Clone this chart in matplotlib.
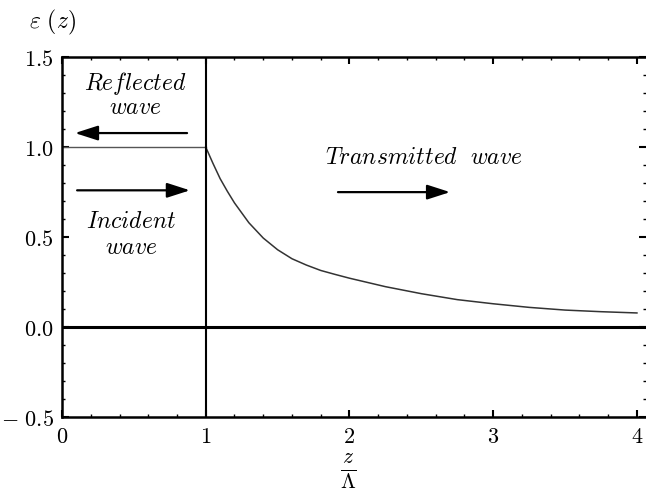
import matplotlib
matplotlib.use('Agg')
import matplotlib.pyplot as plt
from matplotlib.ticker import MultipleLocator

plt.rcParams['mathtext.fontset'] = 'cm'
plt.rcParams['font.family'] = 'serif'
plt.rcParams['font.serif'] = ['DejaVu Serif']

# flat part (z < 1) and the decaying part
z_flat = [0.0, 1.0]
eps_flat = [1.0, 1.0]

z_decay = [1.0, 1.05, 1.1, 1.15, 1.2, 1.25, 1.3, 1.4, 1.5, 1.6, 1.7, 1.8, 1.9,
           2.0, 2.25, 2.5, 2.75, 3.0, 3.25, 3.5, 3.75, 4.0]
eps_decay = [1.0, 0.91, 0.825, 0.755, 0.69, 0.635, 0.58, 0.495, 0.43, 0.38, 0.345,
             0.315, 0.293, 0.272, 0.225, 0.186, 0.153, 0.13, 0.11, 0.095, 0.086, 0.079]

xticks = [0, 1, 2, 3, 4]
yticks = [-0.5, 0.0, 0.5, 1.0, 1.5]
ytick_labels = [r'$-\ 0.5$', r'$0.0$', r'$0.5$', r'$1.0$', r'$1.5$']

fig = plt.figure(figsize=(6.46, 4.92), dpi=100)
ax = fig.add_axes([0.096, 0.152, 0.904, 0.732])

ax.plot(z_flat, eps_flat, color='#555555', lw=1.0)
ax.plot(z_decay, eps_decay, color='#333333', lw=1.1)
ax.axhline(0.0, color='black', lw=2.2)
ax.axvline(1.0, color='black', lw=1.5)

ax.set_xlim(0, 4.063)
ax.set_ylim(-0.5, 1.5)
ax.set_xticks(xticks)
ax.set_xticklabels(['$%d$' % t for t in xticks])
ax.set_yticks(yticks)
ax.set_yticklabels(ytick_labels)
ax.xaxis.set_minor_locator(MultipleLocator(0.2))
ax.yaxis.set_minor_locator(MultipleLocator(0.1))
ax.tick_params(which='both', direction='in', top=True, right=True, labelsize=16, pad=6)
ax.tick_params(which='major', length=5, width=1.5)
ax.tick_params(which='minor', length=2.5, width=1.0)
ax.spines['right'].set_visible(False)
for s in ['left', 'bottom', 'top']:
    ax.spines[s].set_linewidth(1.8)

# labels
fig.text(0.045, 0.955, r'$\varepsilon\ (z)$', fontsize=17, va='center', ha='left')
fig.text(0.540, 0.0, r'$\frac{z}{\Lambda}$', fontsize=22, va='bottom', ha='center')

# annotations
ax.text(0.51, 1.355, r'$Reflected$', fontsize=17, ha='center', va='center')
ax.text(0.51, 1.22, r'$wave$', fontsize=17, ha='center', va='center')
ax.text(0.48, 0.585, r'$Incident$', fontsize=17, ha='center', va='center')
ax.text(0.48, 0.445, r'$wave$', fontsize=17, ha='center', va='center')
ax.text(1.83, 0.94, r'$Transmitted\ \ wave$', fontsize=17, ha='left', va='center')

arrow = dict(arrowstyle='-|>,head_length=1.4,head_width=0.45', color='black', lw=1.6,
             shrinkA=0, shrinkB=0)
ax.annotate('', xy=(0.09, 1.078), xytext=(0.87, 1.078), arrowprops=arrow)
ax.annotate('', xy=(0.89, 0.76), xytext=(0.105, 0.76), arrowprops=arrow)
ax.annotate('', xy=(2.70, 0.75), xytext=(1.92, 0.75), arrowprops=arrow)

fig.savefig('out.png', dpi=100)
